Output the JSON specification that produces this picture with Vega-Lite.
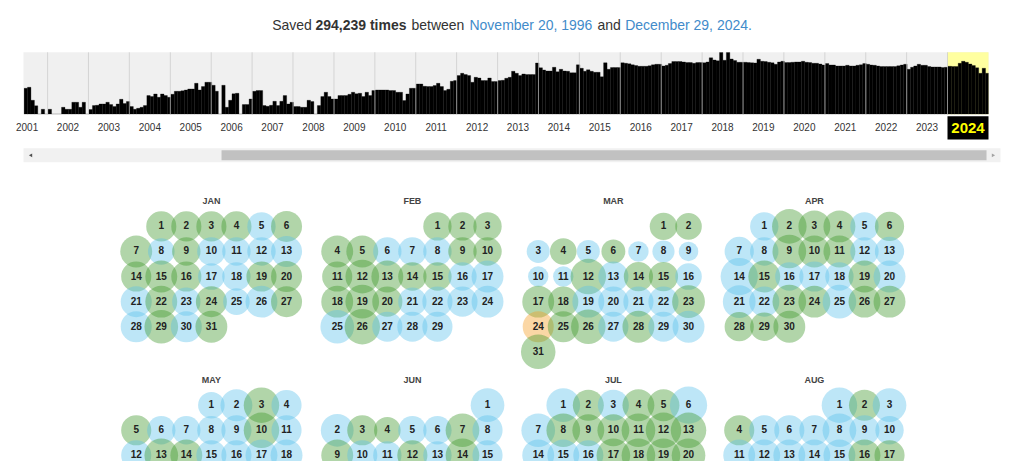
{
  "$schema": "https://vega.github.io/schema/vega-lite/v6.json",
  "padding": {"left": 15.5, "top": 18.3, "right": 0, "bottom": 0},
  "background": "white",
  "config": {"view": {"stroke": null}, "font": "Liberation Sans", "headerFacet": {"labels": false, "title": null, "labelColor": "transparent", "labelFontSize": 0}},
  "bounds": "flush",
  "spacing": 34,
  "resolve": {"scale": {"x": "independent", "y": "independent"}},
  "vconcat": [
    {
      "width": 965,
      "height": 62,
      "view": {"fill": "#f0f0f0", "stroke": null},
      "layer": [
        {
          "data": {"values": [{}]},
          "mark": {"type": "rect", "color": "#ffffa0"},
          "encoding": {
            "x": {"datum": {"year": 2024, "month": 1, "date": 1}, "axis": null,
                  "scale": {"domain": [{"year": 2001, "month": 5, "date": 31}, {"year": 2025, "month": 1, "date": 1}]}},
            "x2": {"datum": {"year": 2025, "month": 1, "date": 1}},
            "y": {"datum": 0, "axis": null, "scale": {"domain": [0, 62], "nice": false, "zero": true}},
            "y2": {"datum": 62}
          }
        },
        {
          "data": {"values": [
            {"t":"2001-06","n":26},{"t":"2001-07","n":27},{"t":"2001-08","n":14},{"t":"2001-09","n":8.5},{"t":"2001-10","n":0},{"t":"2001-11","n":5},{"t":"2001-12","n":0},
            {"t":"2002-01","n":5},{"t":"2002-02","n":0},{"t":"2002-03","n":0},{"t":"2002-04","n":0},{"t":"2002-05","n":7},{"t":"2002-06","n":5},{"t":"2002-07","n":5},{"t":"2002-08","n":12},{"t":"2002-09","n":12},{"t":"2002-10","n":7},{"t":"2002-11","n":12},{"t":"2002-12","n":0},
            {"t":"2003-01","n":4.7},{"t":"2003-02","n":8.7},{"t":"2003-03","n":9},{"t":"2003-04","n":10.3},{"t":"2003-05","n":10.3},{"t":"2003-06","n":12},{"t":"2003-07","n":9.7},{"t":"2003-08","n":7.7},{"t":"2003-09","n":10.3},{"t":"2003-10","n":15},{"t":"2003-11","n":10.7},{"t":"2003-12","n":12.7},
            {"t":"2004-01","n":7.7},{"t":"2004-02","n":5},{"t":"2004-03","n":6},{"t":"2004-04","n":7},{"t":"2004-05","n":8.7},{"t":"2004-06","n":18.7},{"t":"2004-07","n":17.7},{"t":"2004-08","n":20.3},{"t":"2004-09","n":17},{"t":"2004-10","n":20.3},{"t":"2004-11","n":18.7},{"t":"2004-12","n":17},
            {"t":"2005-01","n":20},{"t":"2005-02","n":23},{"t":"2005-03","n":23},{"t":"2005-04","n":23.5},{"t":"2005-05","n":24.3},{"t":"2005-06","n":25.3},{"t":"2005-07","n":25.3},{"t":"2005-08","n":31},{"t":"2005-09","n":24.3},{"t":"2005-10","n":27.7},{"t":"2005-11","n":32},{"t":"2005-12","n":32},
            {"t":"2006-01","n":29},{"t":"2006-02","n":23},{"t":"2006-03","n":0},{"t":"2006-04","n":29},{"t":"2006-05","n":7},{"t":"2006-06","n":14},{"t":"2006-07","n":20.5},{"t":"2006-08","n":21},{"t":"2006-09","n":0},{"t":"2006-10","n":9.7},{"t":"2006-11","n":9.7},{"t":"2006-12","n":15.3},
            {"t":"2007-01","n":23},{"t":"2007-02","n":23.7},{"t":"2007-03","n":23.7},{"t":"2007-04","n":8.7},{"t":"2007-05","n":8},{"t":"2007-06","n":9},{"t":"2007-07","n":13},{"t":"2007-08","n":8.7},{"t":"2007-09","n":13},{"t":"2007-10","n":18.7},{"t":"2007-11","n":10.3},{"t":"2007-12","n":12},
            {"t":"2008-01","n":7.7},{"t":"2008-02","n":7.7},{"t":"2008-03","n":7},{"t":"2008-04","n":7},{"t":"2008-05","n":14},{"t":"2008-06","n":12.7},{"t":"2008-07","n":0},{"t":"2008-08","n":8.7},{"t":"2008-09","n":17.7},{"t":"2008-10","n":22},{"t":"2008-11","n":17.7},{"t":"2008-12","n":15.3},
            {"t":"2009-01","n":15.3},{"t":"2009-02","n":18.7},{"t":"2009-03","n":18.7},{"t":"2009-04","n":18.7},{"t":"2009-05","n":20},{"t":"2009-06","n":22},{"t":"2009-07","n":20.5},{"t":"2009-08","n":21},{"t":"2009-09","n":17.7},{"t":"2009-10","n":22},{"t":"2009-11","n":18.7},{"t":"2009-12","n":23.7},
            {"t":"2010-01","n":24.3},{"t":"2010-02","n":24.3},{"t":"2010-03","n":24.3},{"t":"2010-04","n":24.3},{"t":"2010-05","n":23.7},{"t":"2010-06","n":23.7},{"t":"2010-07","n":22},{"t":"2010-08","n":22},{"t":"2010-09","n":13.7},{"t":"2010-10","n":20.3},{"t":"2010-11","n":26},{"t":"2010-12","n":26},
            {"t":"2011-01","n":30.3},{"t":"2011-02","n":30.3},{"t":"2011-03","n":28},{"t":"2011-04","n":27.7},{"t":"2011-05","n":27.7},{"t":"2011-06","n":28.7},{"t":"2011-07","n":31},{"t":"2011-08","n":27.7},{"t":"2011-09","n":23.7},{"t":"2011-10","n":25},{"t":"2011-11","n":33},{"t":"2011-12","n":33.7},
            {"t":"2012-01","n":38.7},{"t":"2012-02","n":41},{"t":"2012-03","n":39.7},{"t":"2012-04","n":38.7},{"t":"2012-05","n":32},{"t":"2012-06","n":37},{"t":"2012-07","n":36.3},{"t":"2012-08","n":33.7},{"t":"2012-09","n":33.7},{"t":"2012-10","n":36.3},{"t":"2012-11","n":32.7},{"t":"2012-12","n":32.7},
            {"t":"2013-01","n":33.7},{"t":"2013-02","n":34},{"t":"2013-03","n":36},{"t":"2013-04","n":37},{"t":"2013-05","n":43},{"t":"2013-06","n":41},{"t":"2013-07","n":38.7},{"t":"2013-08","n":40.3},{"t":"2013-09","n":39.7},{"t":"2013-10","n":39.7},{"t":"2013-11","n":39.7},{"t":"2013-12","n":51.3},
            {"t":"2014-01","n":46.5},{"t":"2014-02","n":44.3},{"t":"2014-03","n":43.3},{"t":"2014-04","n":43.3},{"t":"2014-05","n":47},{"t":"2014-06","n":42.5},{"t":"2014-07","n":45},{"t":"2014-08","n":43.3},{"t":"2014-09","n":43},{"t":"2014-10","n":41.5},{"t":"2014-11","n":41.5},{"t":"2014-12","n":49.5},
            {"t":"2015-01","n":46},{"t":"2015-02","n":43},{"t":"2015-03","n":44.5},{"t":"2015-04","n":43},{"t":"2015-05","n":42},{"t":"2015-06","n":42},{"t":"2015-07","n":37.5},{"t":"2015-08","n":51.5},{"t":"2015-09","n":45},{"t":"2015-10","n":46.7},{"t":"2015-11","n":46.7},{"t":"2015-12","n":46.7},
            {"t":"2016-01","n":51.5},{"t":"2016-02","n":51},{"t":"2016-03","n":50.5},{"t":"2016-04","n":49.5},{"t":"2016-05","n":48.7},{"t":"2016-06","n":48},{"t":"2016-07","n":48},{"t":"2016-08","n":48},{"t":"2016-09","n":48.5},{"t":"2016-10","n":49.5},{"t":"2016-11","n":50},{"t":"2016-12","n":50},
            {"t":"2017-01","n":48.3},{"t":"2017-02","n":49},{"t":"2017-03","n":50.7},{"t":"2017-04","n":52.7},{"t":"2017-05","n":52.7},{"t":"2017-06","n":52.7},{"t":"2017-07","n":52.3},{"t":"2017-08","n":51.7},{"t":"2017-09","n":51.7},{"t":"2017-10","n":51},{"t":"2017-11","n":51.7},{"t":"2017-12","n":51.7},
            {"t":"2018-01","n":51.5},{"t":"2018-02","n":52.3},{"t":"2018-03","n":56.5},{"t":"2018-04","n":54.3},{"t":"2018-05","n":53.5},{"t":"2018-06","n":62},{"t":"2018-07","n":54},{"t":"2018-08","n":62},{"t":"2018-09","n":55.3},{"t":"2018-10","n":53.7},{"t":"2018-11","n":52},{"t":"2018-12","n":52},
            {"t":"2019-01","n":52},{"t":"2019-02","n":51.7},{"t":"2019-03","n":51.5},{"t":"2019-04","n":51.3},{"t":"2019-05","n":55},{"t":"2019-06","n":53},{"t":"2019-07","n":52.7},{"t":"2019-08","n":52},{"t":"2019-09","n":51.5},{"t":"2019-10","n":50},{"t":"2019-11","n":52.3},{"t":"2019-12","n":53},
            {"t":"2020-01","n":51.7},{"t":"2020-02","n":51.7},{"t":"2020-03","n":52},{"t":"2020-04","n":52.3},{"t":"2020-05","n":52.3},{"t":"2020-06","n":53},{"t":"2020-07","n":52},{"t":"2020-08","n":51.7},{"t":"2020-09","n":51},{"t":"2020-10","n":51},{"t":"2020-11","n":50.3},{"t":"2020-12","n":49.3},
            {"t":"2021-01","n":50.7},{"t":"2021-02","n":49.3},{"t":"2021-03","n":49.3},{"t":"2021-04","n":48.3},{"t":"2021-05","n":48.3},{"t":"2021-06","n":48.3},{"t":"2021-07","n":49},{"t":"2021-08","n":48.3},{"t":"2021-09","n":48.3},{"t":"2021-10","n":49},{"t":"2021-11","n":49.5},{"t":"2021-12","n":50.7},
            {"t":"2022-01","n":50},{"t":"2022-02","n":49.3},{"t":"2022-03","n":49},{"t":"2022-04","n":48.3},{"t":"2022-05","n":47.7},{"t":"2022-06","n":47.7},{"t":"2022-07","n":47.7},{"t":"2022-08","n":47.7},{"t":"2022-09","n":47.7},{"t":"2022-10","n":48.5},{"t":"2022-11","n":49.3},{"t":"2022-12","n":50},
            {"t":"2023-01","n":45},{"t":"2023-02","n":47},{"t":"2023-03","n":48.3},{"t":"2023-04","n":50},{"t":"2023-05","n":49},{"t":"2023-06","n":49},{"t":"2023-07","n":47.7},{"t":"2023-08","n":47.3},{"t":"2023-09","n":47.3},{"t":"2023-10","n":47.3},{"t":"2023-11","n":46.7},{"t":"2023-12","n":47},
            {"t":"2024-01","n":48},{"t":"2024-02","n":47.7},{"t":"2024-03","n":47.7},{"t":"2024-04","n":51},{"t":"2024-05","n":53},{"t":"2024-06","n":52},{"t":"2024-07","n":50.3},{"t":"2024-08","n":48.7},{"t":"2024-09","n":46.5},{"t":"2024-10","n":41},{"t":"2024-11","n":46},{"t":"2024-12","n":41}
          ]},
          "mark": {"type": "bar", "color": "#000000", "clip": true, "binSpacing": 0, "timeUnitBandSize": 1, "timeUnitBandPosition": 0, "stroke": "#000000", "strokeWidth": 0.3},
          "encoding": {
            "x": {"field": "t", "timeUnit": "yearmonth", "type": "temporal", "axis": null},
            "y": {"field": "n", "type": "quantitative", "axis": null}
          }
        },
        {
          "data": {"values": [
            {"t":"2002-01-01"},{"t":"2003-01-01"},{"t":"2004-01-01"},{"t":"2005-01-01"},{"t":"2006-01-01"},{"t":"2007-01-01"},{"t":"2008-01-01"},{"t":"2009-01-01"},{"t":"2010-01-01"},{"t":"2011-01-01"},{"t":"2012-01-01"},{"t":"2013-01-01"},{"t":"2014-01-01"},{"t":"2015-01-01"},{"t":"2016-01-01"},{"t":"2017-01-01"},{"t":"2018-01-01"},{"t":"2019-01-01"},{"t":"2020-01-01"},{"t":"2021-01-01"},{"t":"2022-01-01"},{"t":"2023-01-01"},{"t":"2024-01-01"}
          ]},
          "mark": {"type": "rule", "color": "#c8c8c8", "opacity": 0.7, "strokeWidth": 1},
          "encoding": {"x": {"field": "t", "type": "temporal", "axis": null}}
        },
        {
          "data": {"values": [
            {"t":"2001-07-02","lbl":"2001"},{"t":"2002-07-02","lbl":"2002"},{"t":"2003-07-02","lbl":"2003"},{"t":"2004-07-02","lbl":"2004"},{"t":"2005-07-02","lbl":"2005"},{"t":"2006-07-02","lbl":"2006"},{"t":"2007-07-02","lbl":"2007"},{"t":"2008-07-02","lbl":"2008"},{"t":"2009-07-02","lbl":"2009"},{"t":"2010-07-02","lbl":"2010"},{"t":"2011-07-02","lbl":"2011"},{"t":"2012-07-02","lbl":"2012"},{"t":"2013-07-02","lbl":"2013"},{"t":"2014-07-02","lbl":"2014"},{"t":"2015-07-02","lbl":"2015"},{"t":"2016-07-02","lbl":"2016"},{"t":"2017-07-02","lbl":"2017"},{"t":"2018-07-02","lbl":"2018"},{"t":"2019-07-02","lbl":"2019"},{"t":"2020-07-02","lbl":"2020"},{"t":"2021-07-02","lbl":"2021"},{"t":"2022-07-02","lbl":"2022"},{"t":"2023-07-02","lbl":"2023"}
          ]},
          "mark": {"type": "text", "fontSize": 10, "color": "#333333", "baseline": "alphabetic", "align": "center"},
          "encoding": {
            "x": {"field": "t", "type": "temporal", "axis": null},
            "y": {"datum": -17, "axis": null},
            "text": {"field": "lbl"}
          }
        },
        {
          "data": {"values": [{}]},
          "mark": {"type": "rect", "color": "#000000"},
          "encoding": {
            "x": {"datum": {"year": 2024, "month": 1, "date": 1}, "axis": null},
            "x2": {"datum": {"year": 2025, "month": 1, "date": 1}},
            "y": {"datum": -2, "axis": null},
            "y2": {"datum": -25.3}
          }
        },
        {
          "data": {"values": [{}]},
          "mark": {"type": "text", "fontSize": 15, "fontWeight": "bold", "color": "#ffff00", "baseline": "alphabetic", "align": "center", "text": "2024"},
          "encoding": {
            "x": {"datum": {"year": 2024, "month": 7, "date": 2}, "axis": null},
            "y": {"datum": -19, "axis": null}
          }
        },
        {
          "data": {"values": [{}]},
          "mark": {"type": "text", "fontSize": 14, "color": "#333333", "baseline": "alphabetic", "align": "left", "text": "Saved"},
          "encoding": {
            "x": {"datum": {"year": 2007, "month": 6, "date": 29}, "axis": null},
            "y": {"datum": 84.5, "axis": null}
          }
        },
        {
          "data": {"values": [{}]},
          "mark": {"type": "text", "fontSize": 14, "fontWeight": "bold", "color": "#333333", "baseline": "alphabetic", "align": "left", "text": "294,239 times"},
          "encoding": {
            "x": {"datum": {"year": 2008, "month": 7, "date": 20}, "axis": null},
            "y": {"datum": 84.5, "axis": null}
          }
        },
        {
          "data": {"values": [{}]},
          "mark": {"type": "text", "fontSize": 14, "color": "#333333", "baseline": "alphabetic", "align": "left", "text": "between"},
          "encoding": {
            "x": {"datum": {"year": 2010, "month": 11, "date": 24}, "axis": null},
            "y": {"datum": 84.5, "axis": null}
          }
        },
        {
          "data": {"values": [{}]},
          "mark": {"type": "text", "fontSize": 14, "color": "#428bca", "baseline": "alphabetic", "align": "left", "text": "November 20, 1996"},
          "encoding": {
            "x": {"datum": {"year": 2012, "month": 4, "date": 25}, "axis": null},
            "y": {"datum": 84.5, "axis": null}
          }
        },
        {
          "data": {"values": [{}]},
          "mark": {"type": "text", "fontSize": 14, "color": "#333333", "baseline": "alphabetic", "align": "left", "text": "and"},
          "encoding": {
            "x": {"datum": {"year": 2015, "month": 6, "date": 12}, "axis": null},
            "y": {"datum": 84.5, "axis": null}
          }
        },
        {
          "data": {"values": [{}]},
          "mark": {"type": "text", "fontSize": 14, "color": "#428bca", "baseline": "alphabetic", "align": "left", "text": "December 29, 2024."},
          "encoding": {
            "x": {"datum": {"year": 2016, "month": 2, "date": 14}, "axis": null},
            "y": {"datum": 84.5, "axis": null}
          }
        }
      ]
    },
    {
      "width": 977,
      "height": 19,
      "layer": [
        {
          "data": {"values": [{}]},
          "mark": {"type": "rect", "color": "#f1f1f1"},
          "encoding": {
            "x": {"datum": 0, "axis": null, "scale": {"domain": [0, 1], "nice": false, "zero": false}},
            "x2": {"datum": 1},
            "y": {"datum": 19, "axis": null, "scale": {"domain": [0, 19], "nice": false, "zero": false}},
            "y2": {"datum": 5}
          }
        },
        {
          "data": {"values": [{}]},
          "mark": {"type": "rect", "color": "#c1c1c1"},
          "encoding": {
            "x": {"datum": 0.2027, "axis": null},
            "x2": {"datum": 0.9857},
            "y": {"datum": 17, "axis": null},
            "y2": {"datum": 7}
          }
        },
        {
          "data": {"values": [{}]},
          "mark": {"type": "point", "shape": "triangle-left", "filled": true, "color": "#505050", "size": 14, "opacity": 1},
          "encoding": {
            "x": {"datum": 0.0072, "axis": null},
            "y": {"datum": 12, "axis": null}
          }
        },
        {
          "data": {"values": [{}]},
          "mark": {"type": "point", "shape": "triangle-right", "filled": true, "color": "#a3a3a3", "size": 14, "opacity": 1},
          "encoding": {
            "x": {"datum": 0.9928, "axis": null},
            "y": {"datum": 12, "axis": null}
          }
        }
      ]
    },
    {
      "data": {"values": [
        {"m":"JAN","lbl":"JAN","wd":3,"wk":-1},{"m":"FEB","lbl":"FEB","wd":3,"wk":-1},{"m":"MAR","lbl":"MAR","wd":3,"wk":-1},{"m":"APR","lbl":"APR","wd":3,"wk":-1},
        {"m":"MAY","lbl":"MAY","wd":3,"wk":-1},{"m":"JUN","lbl":"JUN","wd":3,"wk":-1},{"m":"JUL","lbl":"JUL","wd":3,"wk":-1},{"m":"AUG","lbl":"AUG","wd":3,"wk":-1},
        {"m":"JAN","d":1,"wd":1,"wk":0,"st":"3xx","n":289},{"m":"JAN","d":2,"wd":2,"wk":0,"st":"3xx","n":289},{"m":"JAN","d":3,"wd":3,"wk":0,"st":"3xx","n":289},{"m":"JAN","d":4,"wd":4,"wk":0,"st":"3xx","n":289},{"m":"JAN","d":5,"wd":5,"wk":0,"st":"2xx","n":256},{"m":"JAN","d":6,"wd":6,"wk":0,"st":"3xx","n":306},
        {"m":"JAN","d":7,"wd":0,"wk":1,"st":"3xx","n":324},{"m":"JAN","d":8,"wd":1,"wk":1,"st":"2xx","n":225},{"m":"JAN","d":9,"wd":2,"wk":1,"st":"3xx","n":256},{"m":"JAN","d":10,"wd":3,"wk":1,"st":"2xx","n":256},{"m":"JAN","d":11,"wd":4,"wk":1,"st":"2xx","n":256},{"m":"JAN","d":12,"wd":5,"wk":1,"st":"2xx","n":256},{"m":"JAN","d":13,"wd":6,"wk":1,"st":"2xx","n":306},
        {"m":"JAN","d":14,"wd":0,"wk":2,"st":"3xx","n":289},{"m":"JAN","d":15,"wd":1,"wk":2,"st":"3xx","n":324},{"m":"JAN","d":16,"wd":2,"wk":2,"st":"3xx","n":289},{"m":"JAN","d":17,"wd":3,"wk":2,"st":"2xx","n":225},{"m":"JAN","d":18,"wd":4,"wk":2,"st":"2xx","n":256},{"m":"JAN","d":19,"wd":5,"wk":2,"st":"3xx","n":289},{"m":"JAN","d":20,"wd":6,"wk":2,"st":"3xx","n":306},
        {"m":"JAN","d":21,"wd":0,"wk":3,"st":"2xx","n":306},{"m":"JAN","d":22,"wd":1,"wk":3,"st":"3xx","n":324},{"m":"JAN","d":23,"wd":2,"wk":3,"st":"2xx","n":256},{"m":"JAN","d":24,"wd":3,"wk":3,"st":"3xx","n":306},{"m":"JAN","d":25,"wd":4,"wk":3,"st":"2xx","n":225},{"m":"JAN","d":26,"wd":5,"wk":3,"st":"2xx","n":324},{"m":"JAN","d":27,"wd":6,"wk":3,"st":"3xx","n":306},
        {"m":"JAN","d":28,"wd":0,"wk":4,"st":"2xx","n":306},{"m":"JAN","d":29,"wd":1,"wk":4,"st":"3xx","n":361},{"m":"JAN","d":30,"wd":2,"wk":4,"st":"2xx","n":306},{"m":"JAN","d":31,"wd":3,"wk":4,"st":"3xx","n":324},
        {"m":"FEB","d":1,"wd":4,"wk":0,"st":"3xx","n":256},{"m":"FEB","d":2,"wd":5,"wk":0,"st":"3xx","n":256},{"m":"FEB","d":3,"wd":6,"wk":0,"st":"3xx","n":256},
        {"m":"FEB","d":4,"wd":0,"wk":1,"st":"3xx","n":324},{"m":"FEB","d":5,"wd":1,"wk":1,"st":"3xx","n":324},{"m":"FEB","d":6,"wd":2,"wk":1,"st":"2xx","n":256},{"m":"FEB","d":7,"wd":3,"wk":1,"st":"2xx","n":256},{"m":"FEB","d":8,"wd":4,"wk":1,"st":"2xx","n":256},{"m":"FEB","d":9,"wd":5,"wk":1,"st":"3xx","n":256},{"m":"FEB","d":10,"wd":6,"wk":1,"st":"3xx","n":256},
        {"m":"FEB","d":11,"wd":0,"wk":2,"st":"3xx","n":289},{"m":"FEB","d":12,"wd":1,"wk":2,"st":"3xx","n":361},{"m":"FEB","d":13,"wd":2,"wk":2,"st":"3xx","n":324},{"m":"FEB","d":14,"wd":3,"wk":2,"st":"3xx","n":256},{"m":"FEB","d":15,"wd":4,"wk":2,"st":"3xx","n":256},{"m":"FEB","d":16,"wd":5,"wk":2,"st":"2xx","n":256},{"m":"FEB","d":17,"wd":6,"wk":2,"st":"2xx","n":324},
        {"m":"FEB","d":18,"wd":0,"wk":3,"st":"3xx","n":324},{"m":"FEB","d":19,"wd":1,"wk":3,"st":"3xx","n":361},{"m":"FEB","d":20,"wd":2,"wk":3,"st":"3xx","n":289},{"m":"FEB","d":21,"wd":3,"wk":3,"st":"2xx","n":256},{"m":"FEB","d":22,"wd":4,"wk":3,"st":"2xx","n":289},{"m":"FEB","d":23,"wd":5,"wk":3,"st":"2xx","n":289},{"m":"FEB","d":24,"wd":6,"wk":3,"st":"2xx","n":324},
        {"m":"FEB","d":25,"wd":0,"wk":4,"st":"2xx","n":361},{"m":"FEB","d":26,"wd":1,"wk":4,"st":"3xx","n":400},{"m":"FEB","d":27,"wd":2,"wk":4,"st":"2xx","n":289},{"m":"FEB","d":28,"wd":3,"wk":4,"st":"2xx","n":289},{"m":"FEB","d":29,"wd":4,"wk":4,"st":"2xx","n":289},
        {"m":"MAR","d":1,"wd":5,"wk":0,"st":"3xx","n":240},{"m":"MAR","d":2,"wd":6,"wk":0,"st":"3xx","n":225},
        {"m":"MAR","d":3,"wd":0,"wk":1,"st":"2xx","n":169},{"m":"MAR","d":4,"wd":1,"wk":1,"st":"3xx","n":225},{"m":"MAR","d":5,"wd":2,"wk":1,"st":"2xx","n":169},{"m":"MAR","d":6,"wd":3,"wk":1,"st":"3xx","n":182},{"m":"MAR","d":7,"wd":4,"wk":1,"st":"2xx","n":132},{"m":"MAR","d":8,"wd":5,"wk":1,"st":"2xx","n":156},{"m":"MAR","d":9,"wd":6,"wk":1,"st":"2xx","n":121},
        {"m":"MAR","d":10,"wd":0,"wk":2,"st":"2xx","n":132},{"m":"MAR","d":11,"wd":1,"wk":2,"st":"2xx","n":132},{"m":"MAR","d":12,"wd":2,"wk":2,"st":"3xx","n":400},{"m":"MAR","d":13,"wd":3,"wk":2,"st":"2xx","n":289},{"m":"MAR","d":14,"wd":4,"wk":2,"st":"3xx","n":272},{"m":"MAR","d":15,"wd":5,"wk":2,"st":"3xx","n":272},{"m":"MAR","d":16,"wd":6,"wk":2,"st":"2xx","n":225},
        {"m":"MAR","d":17,"wd":0,"wk":3,"st":"3xx","n":324},{"m":"MAR","d":18,"wd":1,"wk":3,"st":"3xx","n":289},{"m":"MAR","d":19,"wd":2,"wk":3,"st":"2xx","n":324},{"m":"MAR","d":20,"wd":3,"wk":3,"st":"2xx","n":289},{"m":"MAR","d":21,"wd":4,"wk":3,"st":"2xx","n":289},{"m":"MAR","d":22,"wd":5,"wk":3,"st":"2xx","n":289},{"m":"MAR","d":23,"wd":6,"wk":3,"st":"3xx","n":342},
        {"m":"MAR","d":24,"wd":0,"wk":4,"st":"4xx","n":306},{"m":"MAR","d":25,"wd":1,"wk":4,"st":"3xx","n":306},{"m":"MAR","d":26,"wd":2,"wk":4,"st":"3xx","n":380},{"m":"MAR","d":27,"wd":3,"wk":4,"st":"2xx","n":289},{"m":"MAR","d":28,"wd":4,"wk":4,"st":"3xx","n":324},{"m":"MAR","d":29,"wd":5,"wk":4,"st":"2xx","n":289},{"m":"MAR","d":30,"wd":6,"wk":4,"st":"2xx","n":324},
        {"m":"MAR","d":31,"wd":0,"wk":5,"st":"3xx","n":380},
        {"m":"APR","d":1,"wd":1,"wk":0,"st":"2xx","n":256},{"m":"APR","d":2,"wd":2,"wk":0,"st":"3xx","n":380},{"m":"APR","d":3,"wd":3,"wk":0,"st":"3xx","n":324},{"m":"APR","d":4,"wd":4,"wk":0,"st":"3xx","n":324},{"m":"APR","d":5,"wd":5,"wk":0,"st":"2xx","n":256},{"m":"APR","d":6,"wd":6,"wk":0,"st":"3xx","n":272},
        {"m":"APR","d":7,"wd":0,"wk":1,"st":"2xx","n":272},{"m":"APR","d":8,"wd":1,"wk":1,"st":"2xx","n":256},{"m":"APR","d":9,"wd":2,"wk":1,"st":"3xx","n":361},{"m":"APR","d":10,"wd":3,"wk":1,"st":"3xx","n":324},{"m":"APR","d":11,"wd":4,"wk":1,"st":"3xx","n":324},{"m":"APR","d":12,"wd":5,"wk":1,"st":"2xx","n":256},{"m":"APR","d":13,"wd":6,"wk":1,"st":"2xx","n":272},
        {"m":"APR","d":14,"wd":0,"wk":2,"st":"2xx","n":441},{"m":"APR","d":15,"wd":1,"wk":2,"st":"3xx","n":324},{"m":"APR","d":16,"wd":2,"wk":2,"st":"2xx","n":256},{"m":"APR","d":17,"wd":3,"wk":2,"st":"2xx","n":289},{"m":"APR","d":18,"wd":4,"wk":2,"st":"2xx","n":256},{"m":"APR","d":19,"wd":5,"wk":2,"st":"3xx","n":324},{"m":"APR","d":20,"wd":6,"wk":2,"st":"2xx","n":324},
        {"m":"APR","d":21,"wd":0,"wk":3,"st":"2xx","n":342},{"m":"APR","d":22,"wd":1,"wk":3,"st":"2xx","n":289},{"m":"APR","d":23,"wd":2,"wk":3,"st":"3xx","n":361},{"m":"APR","d":24,"wd":3,"wk":3,"st":"3xx","n":324},{"m":"APR","d":25,"wd":4,"wk":3,"st":"2xx","n":361},{"m":"APR","d":26,"wd":5,"wk":3,"st":"3xx","n":324},{"m":"APR","d":27,"wd":6,"wk":3,"st":"3xx","n":324},
        {"m":"APR","d":28,"wd":0,"wk":4,"st":"3xx","n":272},{"m":"APR","d":29,"wd":1,"wk":4,"st":"3xx","n":256},{"m":"APR","d":30,"wd":2,"wk":4,"st":"3xx","n":324},
        {"m":"MAY","d":1,"wd":3,"wk":0,"st":"2xx","n":225},{"m":"MAY","d":2,"wd":4,"wk":0,"st":"2xx","n":324},{"m":"MAY","d":3,"wd":5,"wk":0,"st":"3xx","n":400},{"m":"MAY","d":4,"wd":6,"wk":0,"st":"2xx","n":289},
        {"m":"MAY","d":5,"wd":0,"wk":1,"st":"3xx","n":289},{"m":"MAY","d":6,"wd":1,"wk":1,"st":"2xx","n":256},{"m":"MAY","d":7,"wd":2,"wk":1,"st":"2xx","n":256},{"m":"MAY","d":8,"wd":3,"wk":1,"st":"2xx","n":256},{"m":"MAY","d":9,"wd":4,"wk":1,"st":"2xx","n":289},{"m":"MAY","d":10,"wd":5,"wk":1,"st":"3xx","n":400},{"m":"MAY","d":11,"wd":6,"wk":1,"st":"2xx","n":289},
        {"m":"MAY","d":12,"wd":0,"wk":2,"st":"2xx","n":289},{"m":"MAY","d":13,"wd":1,"wk":2,"st":"3xx","n":361},{"m":"MAY","d":14,"wd":2,"wk":2,"st":"3xx","n":324},{"m":"MAY","d":15,"wd":3,"wk":2,"st":"2xx","n":289},{"m":"MAY","d":16,"wd":4,"wk":2,"st":"2xx","n":289},{"m":"MAY","d":17,"wd":5,"wk":2,"st":"2xx","n":324},{"m":"MAY","d":18,"wd":6,"wk":2,"st":"2xx","n":324},
        {"m":"MAY","d":19,"wd":0,"wk":3,"st":"2xx","n":289},{"m":"MAY","d":20,"wd":1,"wk":3,"st":"3xx","n":324},{"m":"MAY","d":21,"wd":2,"wk":3,"st":"2xx","n":289},{"m":"MAY","d":22,"wd":3,"wk":3,"st":"2xx","n":289},{"m":"MAY","d":23,"wd":4,"wk":3,"st":"3xx","n":289},{"m":"MAY","d":24,"wd":5,"wk":3,"st":"2xx","n":289},{"m":"MAY","d":25,"wd":6,"wk":3,"st":"2xx","n":256},
        {"m":"MAY","d":26,"wd":0,"wk":4,"st":"3xx","n":289},{"m":"MAY","d":27,"wd":1,"wk":4,"st":"2xx","n":256},{"m":"MAY","d":28,"wd":2,"wk":4,"st":"3xx","n":289},{"m":"MAY","d":29,"wd":3,"wk":4,"st":"2xx","n":289},{"m":"MAY","d":30,"wd":4,"wk":4,"st":"2xx","n":289},{"m":"MAY","d":31,"wd":5,"wk":4,"st":"2xx","n":256},
        {"m":"JUN","d":1,"wd":6,"wk":0,"st":"2xx","n":361},
        {"m":"JUN","d":2,"wd":0,"wk":1,"st":"2xx","n":342},{"m":"JUN","d":3,"wd":1,"wk":1,"st":"3xx","n":289},{"m":"JUN","d":4,"wd":2,"wk":1,"st":"3xx","n":225},{"m":"JUN","d":5,"wd":3,"wk":1,"st":"2xx","n":256},{"m":"JUN","d":6,"wd":4,"wk":1,"st":"2xx","n":256},{"m":"JUN","d":7,"wd":5,"wk":1,"st":"3xx","n":361},{"m":"JUN","d":8,"wd":6,"wk":1,"st":"2xx","n":289},
        {"m":"JUN","d":9,"wd":0,"wk":2,"st":"3xx","n":324},{"m":"JUN","d":10,"wd":1,"wk":2,"st":"2xx","n":289},{"m":"JUN","d":11,"wd":2,"wk":2,"st":"2xx","n":256},{"m":"JUN","d":12,"wd":3,"wk":2,"st":"3xx","n":289},{"m":"JUN","d":13,"wd":4,"wk":2,"st":"2xx","n":256},{"m":"JUN","d":14,"wd":5,"wk":2,"st":"3xx","n":361},{"m":"JUN","d":15,"wd":6,"wk":2,"st":"2xx","n":289},
        {"m":"JUN","d":16,"wd":0,"wk":3,"st":"2xx","n":289},{"m":"JUN","d":17,"wd":1,"wk":3,"st":"3xx","n":289},{"m":"JUN","d":18,"wd":2,"wk":3,"st":"2xx","n":256},{"m":"JUN","d":19,"wd":3,"wk":3,"st":"2xx","n":289},{"m":"JUN","d":20,"wd":4,"wk":3,"st":"3xx","n":289},{"m":"JUN","d":21,"wd":5,"wk":3,"st":"2xx","n":256},{"m":"JUN","d":22,"wd":6,"wk":3,"st":"2xx","n":289},
        {"m":"JUN","d":23,"wd":0,"wk":4,"st":"2xx","n":256},{"m":"JUN","d":24,"wd":1,"wk":4,"st":"3xx","n":289},{"m":"JUN","d":25,"wd":2,"wk":4,"st":"2xx","n":289},{"m":"JUN","d":26,"wd":3,"wk":4,"st":"2xx","n":289},{"m":"JUN","d":27,"wd":4,"wk":4,"st":"3xx","n":256},{"m":"JUN","d":28,"wd":5,"wk":4,"st":"2xx","n":256},{"m":"JUN","d":29,"wd":6,"wk":4,"st":"2xx","n":289},
        {"m":"JUN","d":30,"wd":0,"wk":5,"st":"2xx","n":256},
        {"m":"JUL","d":1,"wd":1,"wk":0,"st":"2xx","n":361},{"m":"JUL","d":2,"wd":2,"wk":0,"st":"3xx","n":306},{"m":"JUL","d":3,"wd":3,"wk":0,"st":"2xx","n":306},{"m":"JUL","d":4,"wd":4,"wk":0,"st":"3xx","n":324},{"m":"JUL","d":5,"wd":5,"wk":0,"st":"3xx","n":324},{"m":"JUL","d":6,"wd":6,"wk":0,"st":"2xx","n":441},
        {"m":"JUL","d":7,"wd":0,"wk":1,"st":"2xx","n":361},{"m":"JUL","d":8,"wd":1,"wk":1,"st":"3xx","n":361},{"m":"JUL","d":9,"wd":2,"wk":1,"st":"3xx","n":324},{"m":"JUL","d":10,"wd":3,"wk":1,"st":"3xx","n":324},{"m":"JUL","d":11,"wd":4,"wk":1,"st":"3xx","n":361},{"m":"JUL","d":12,"wd":5,"wk":1,"st":"3xx","n":400},{"m":"JUL","d":13,"wd":6,"wk":1,"st":"3xx","n":400},
        {"m":"JUL","d":14,"wd":0,"wk":2,"st":"2xx","n":324},{"m":"JUL","d":15,"wd":1,"wk":2,"st":"2xx","n":324},{"m":"JUL","d":16,"wd":2,"wk":2,"st":"2xx","n":289},{"m":"JUL","d":17,"wd":3,"wk":2,"st":"3xx","n":361},{"m":"JUL","d":18,"wd":4,"wk":2,"st":"3xx","n":361},{"m":"JUL","d":19,"wd":5,"wk":2,"st":"3xx","n":361},{"m":"JUL","d":20,"wd":6,"wk":2,"st":"3xx","n":361},
        {"m":"JUL","d":21,"wd":0,"wk":3,"st":"3xx","n":324},{"m":"JUL","d":22,"wd":1,"wk":3,"st":"2xx","n":289},{"m":"JUL","d":23,"wd":2,"wk":3,"st":"3xx","n":324},{"m":"JUL","d":24,"wd":3,"wk":3,"st":"3xx","n":324},{"m":"JUL","d":25,"wd":4,"wk":3,"st":"2xx","n":289},{"m":"JUL","d":26,"wd":5,"wk":3,"st":"3xx","n":324},{"m":"JUL","d":27,"wd":6,"wk":3,"st":"3xx","n":289},
        {"m":"JUL","d":28,"wd":0,"wk":4,"st":"2xx","n":289},{"m":"JUL","d":29,"wd":1,"wk":4,"st":"3xx","n":324},{"m":"JUL","d":30,"wd":2,"wk":4,"st":"3xx","n":289},{"m":"JUL","d":31,"wd":3,"wk":4,"st":"2xx","n":289},
        {"m":"AUG","d":1,"wd":4,"wk":0,"st":"2xx","n":400},{"m":"AUG","d":2,"wd":5,"wk":0,"st":"3xx","n":306},{"m":"AUG","d":3,"wd":6,"wk":0,"st":"2xx","n":361},
        {"m":"AUG","d":4,"wd":0,"wk":1,"st":"3xx","n":289},{"m":"AUG","d":5,"wd":1,"wk":1,"st":"2xx","n":289},{"m":"AUG","d":6,"wd":2,"wk":1,"st":"2xx","n":289},{"m":"AUG","d":7,"wd":3,"wk":1,"st":"2xx","n":289},{"m":"AUG","d":8,"wd":4,"wk":1,"st":"2xx","n":361},{"m":"AUG","d":9,"wd":5,"wk":1,"st":"2xx","n":289},{"m":"AUG","d":10,"wd":6,"wk":1,"st":"2xx","n":256},
        {"m":"AUG","d":11,"wd":0,"wk":2,"st":"2xx","n":324},{"m":"AUG","d":12,"wd":1,"wk":2,"st":"2xx","n":324},{"m":"AUG","d":13,"wd":2,"wk":2,"st":"2xx","n":324},{"m":"AUG","d":14,"wd":3,"wk":2,"st":"2xx","n":324},{"m":"AUG","d":15,"wd":4,"wk":2,"st":"2xx","n":324},{"m":"AUG","d":16,"wd":5,"wk":2,"st":"3xx","n":324},{"m":"AUG","d":17,"wd":6,"wk":2,"st":"3xx","n":289},
        {"m":"AUG","d":18,"wd":0,"wk":3,"st":"2xx","n":289},{"m":"AUG","d":19,"wd":1,"wk":3,"st":"3xx","n":289},{"m":"AUG","d":20,"wd":2,"wk":3,"st":"2xx","n":289},{"m":"AUG","d":21,"wd":3,"wk":3,"st":"2xx","n":256},{"m":"AUG","d":22,"wd":4,"wk":3,"st":"2xx","n":289},{"m":"AUG","d":23,"wd":5,"wk":3,"st":"3xx","n":289},{"m":"AUG","d":24,"wd":6,"wk":3,"st":"2xx","n":256},
        {"m":"AUG","d":25,"wd":0,"wk":4,"st":"2xx","n":289},{"m":"AUG","d":26,"wd":1,"wk":4,"st":"2xx","n":256},{"m":"AUG","d":27,"wd":2,"wk":4,"st":"3xx","n":289},{"m":"AUG","d":28,"wd":3,"wk":4,"st":"2xx","n":289},{"m":"AUG","d":29,"wd":4,"wk":4,"st":"2xx","n":256},{"m":"AUG","d":30,"wd":5,"wk":4,"st":"2xx","n":289},{"m":"AUG","d":31,"wd":6,"wk":4,"st":"3xx","n":289}
      ]},
      "facet": {"field": "m", "type": "nominal", "title": null, "sort": ["JAN","FEB","MAR","APR","MAY","JUN","JUL","AUG"], "header": {"labels": false, "title": null, "labelColor": "transparent", "labelFontSize": 0, "labelPadding": 0}},
      "columns": 4,
      "spacing": {"row": 27.8, "column": 0},
      "bounds": "flush",
      "spec": {
        "width": 200.4,
        "height": 150.5,
        "layer": [
          {
            "transform": [{"filter": "datum.st != null"}],
            "mark": {"type": "circle", "opacity": 0.4},
            "encoding": {
              "x": {"field": "wd", "type": "quantitative", "axis": null, "scale": {"domain": [-4.5, 3.5], "nice": false, "zero": false}},
              "y": {"field": "wk", "type": "quantitative", "axis": null, "scale": {"domain": [-1, 5], "reverse": true, "nice": false, "zero": false}},
              "size": {"field": "n", "type": "quantitative", "legend": null, "scale": {"domain": [0, 400], "range": [0, 1256.6]}},
              "color": {"field": "st", "type": "nominal", "legend": null, "scale": {"domain": ["2xx", "3xx", "4xx"], "range": ["#5bc0eb", "#3c9628", "#f49a1e"]}}
            }
          },
          {
            "transform": [{"filter": "datum.d != null"}],
            "mark": {"type": "text", "fontSize": 10, "fontWeight": "bold", "color": "#222222", "baseline": "middle", "align": "center"},
            "encoding": {
              "x": {"field": "wd", "type": "quantitative", "axis": null},
              "y": {"field": "wk", "type": "quantitative", "axis": null},
              "text": {"field": "d", "type": "quantitative"}
            }
          },
          {
            "transform": [{"filter": "datum.lbl != null"}],
            "mark": {"type": "text", "fontSize": 9, "fontWeight": "bold", "color": "#444444", "baseline": "middle", "align": "center"},
            "encoding": {
              "x": {"field": "wd", "type": "quantitative", "axis": null},
              "y": {"field": "wk", "type": "quantitative", "axis": null},
              "text": {"field": "lbl"}
            }
          }
        ]
      }
    }
  ]
}
